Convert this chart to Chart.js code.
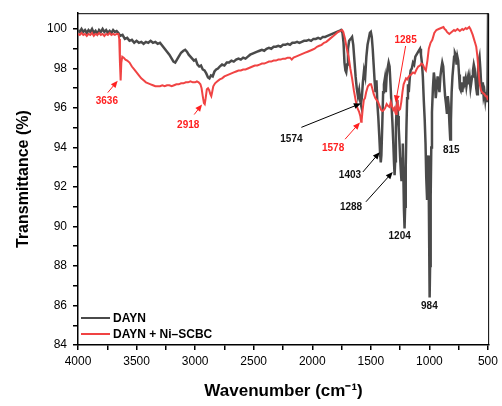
<!DOCTYPE html>
<html>
<head>
<meta charset="utf-8">
<script src="https://cdn.jsdelivr.net/npm/chart.js@4"></script>
<style>
html,body{margin:0;padding:0;background:#fff;}
#wrap{width:502px;height:406px;}
</style>
</head>
<body>
<div id="wrap"><canvas id="c" width="502" height="406"></canvas></div>
<script>
// ---- data ----
const seriesNames = ['DAYN', 'DAYN + Ni\u2013SCBC'];
const wnDAYN = [4000,3985,3970,3955,3940,3925,3910,3895,3880,3865,3850,3835,3820,3805,3790,3775,3760,3745,3730,3715,3700,3685,3670,3655,3640,3620,3600,3580,3560,3540,3520,3500,3480,3460,3440,3420,3400,3380,3360,3340,3320,3300,3280,3260,3240,3220,3200,3185,3170,3155,3140,3120,3100,3085,3070,3055,3040,3025,3010,2995,2980,2965,2950,2935,2920,2905,2890,2878,2865,2850,2835,2820,2805,2790,2770,2750,2730,2710,2690,2670,2650,2630,2610,2590,2570,2550,2530,2510,2490,2470,2450,2430,2410,2390,2370,2350,2330,2310,2290,2270,2250,2230,2210,2190,2170,2150,2130,2110,2090,2070,2050,2030,2010,1990,1970,1950,1930,1910,1890,1870,1850,1830,1810,1790,1770,1755,1742,1733,1725,1717,1710,1702,1695,1685,1672,1660,1650,1640,1630,1620,1610,1600,1592,1585,1577,1568,1558,1548,1538,1528,1518,1508,1500,1492,1484,1476,1468,1460,1452,1444,1436,1428,1420,1415,1410,1402,1395,1388,1380,1372,1365,1357,1348,1340,1332,1324,1316,1308,1302,1297,1292,1286,1280,1274,1268,1262,1256,1250,1244,1238,1232,1227,1222,1217,1212,1207,1202,1196,1190,1183,1176,1168,1160,1150,1140,1130,1120,1110,1100,1090,1080,1072,1064,1056,1048,1040,1033,1027,1020,1014,1009,1005,1001,998,994,989,984,978,970,962,954,946,938,930,922,914,906,898,890,882,874,866,858,850,843,836,829,822,816,810,803,796,789,782,775,768,761,754,747,740,733,726,719,712,705,698,691,684,677,670,663,656,649,642,635,628,621,614,607,600,593,586,579,572,565,558,551,544,537,530,523,516,510,504,499];
const tDAYN = [99.95,99.85,100.0,99.85,99.95,99.8,99.95,99.85,100.0,99.8,99.9,99.75,99.95,99.85,100.0,99.85,99.95,99.8,99.9,99.8,99.95,99.85,99.9,99.8,99.65,99.7,99.5,99.55,99.4,99.45,99.3,99.4,99.3,99.35,99.25,99.35,99.3,99.4,99.3,99.35,99.25,99.3,99.15,99.0,98.85,98.7,98.5,98.35,98.3,98.45,98.6,98.8,98.9,98.95,98.85,98.7,98.6,98.5,98.4,98.45,98.2,98.1,98.15,97.95,97.9,97.75,97.55,97.5,97.65,97.6,97.85,97.95,98.0,98.1,98.2,98.15,98.3,98.3,98.4,98.35,98.45,98.5,98.45,98.55,98.5,98.6,98.7,98.75,98.8,98.85,98.9,98.95,98.9,99.0,99.05,99.0,99.1,99.1,99.15,99.1,99.2,99.2,99.25,99.2,99.3,99.3,99.35,99.3,99.35,99.4,99.4,99.45,99.4,99.5,99.5,99.55,99.5,99.6,99.6,99.65,99.7,99.75,99.8,99.85,99.9,99.95,99.8,99.3,98.3,97.9,97.8,98.2,99.0,99.4,99.5,99.6,99.2,98.4,97.6,97.0,96.6,96.9,96.4,96.2,96.5,97.3,97.9,97.6,98.6,99.2,99.5,99.8,99.85,99.6,99.0,98.2,97.4,96.8,97.4,96.2,95.5,94.6,93.6,93.25,93.6,95.2,96.8,97.2,97.5,96.8,97.6,98.0,98.3,98.1,97.2,96.2,95.3,94.2,93.2,92.6,93.3,95.0,96.0,96.4,95.6,95.0,94.3,93.5,92.8,92.3,92.9,94.2,92.5,90.8,89.9,91.0,93.0,95.0,96.5,97.2,96.8,97.5,97.9,98.0,98.3,98.2,98.6,98.7,98.8,98.9,99.0,98.7,98.3,97.6,96.4,95.4,94.2,92.5,91.4,92.2,93.6,91.5,88.5,86.4,88.0,91.5,94.0,95.8,97.0,97.8,97.4,96.5,97.0,97.6,97.2,96.8,97.6,98.0,98.3,98.1,97.3,96.6,96.2,95.7,96.6,96.2,95.2,94.4,95.4,96.8,97.6,98.1,98.6,98.8,98.7,98.2,98.6,98.4,97.7,97.0,96.9,97.3,96.8,97.2,97.6,97.3,97.5,97.1,97.4,97.6,97.2,97.5,97.0,97.3,97.6,97.9,98.2,98.0,97.5,97.0,96.7,97.8,98.4,98.6,98.0,97.2,96.7,97.3,96.6,96.8,96.4,96.8,96.3,97.0,100.9];

const wnNi = [4000,3985,3970,3955,3940,3925,3910,3895,3880,3865,3850,3835,3820,3805,3790,3775,3760,3745,3730,3715,3700,3685,3670,3655,3648,3642,3636,3630,3622,3610,3595,3580,3560,3540,3520,3500,3480,3460,3440,3420,3400,3380,3360,3340,3320,3300,3280,3260,3240,3220,3200,3180,3160,3140,3120,3100,3080,3060,3040,3020,3000,2985,2970,2955,2945,2935,2925,2918,2910,2900,2890,2880,2870,2862,2855,2845,2830,2810,2790,2770,2750,2730,2710,2690,2670,2650,2630,2610,2590,2570,2550,2530,2510,2490,2470,2450,2430,2410,2390,2370,2350,2330,2310,2290,2270,2250,2230,2210,2190,2175,2160,2140,2120,2100,2080,2060,2040,2020,2000,1980,1960,1940,1920,1900,1880,1860,1840,1820,1800,1780,1760,1745,1735,1720,1705,1690,1675,1660,1645,1630,1615,1600,1590,1583,1578,1570,1560,1550,1540,1525,1510,1498,1488,1475,1462,1450,1438,1425,1412,1400,1390,1378,1365,1352,1340,1330,1320,1308,1298,1290,1285,1279,1272,1265,1258,1250,1240,1230,1220,1210,1200,1190,1180,1168,1155,1140,1125,1110,1095,1080,1068,1055,1042,1030,1017,1005,990,975,958,940,920,900,880,870,860,850,840,830,820,810,800,790,780,770,760,750,740,730,720,710,700,690,680,670,660,650,640,630,620,610,600,590,580,570,560,550,540,530,520,510,500,492];
const tNi = [99.75,99.7,99.8,99.7,99.75,99.65,99.75,99.7,99.8,99.65,99.75,99.7,99.8,99.7,99.75,99.65,99.75,99.7,99.8,99.7,99.75,99.7,99.75,99.75,99.5,98.3,97.4,98.3,98.6,98.55,98.45,98.4,98.3,98.1,97.95,97.8,97.65,97.5,97.4,97.3,97.25,97.2,97.15,97.1,97.1,97.1,97.15,97.1,97.15,97.15,97.1,97.15,97.2,97.2,97.25,97.25,97.3,97.3,97.35,97.3,97.3,97.35,97.3,97.2,97.0,96.6,96.25,96.2,96.5,96.95,97.0,96.9,96.7,96.6,96.8,97.1,97.25,97.35,97.45,97.5,97.6,97.65,97.7,97.75,97.8,97.85,97.9,97.9,97.95,97.95,98.0,98.05,98.1,98.15,98.15,98.2,98.25,98.25,98.3,98.35,98.35,98.4,98.4,98.45,98.45,98.5,98.5,98.55,98.55,98.45,98.55,98.6,98.65,98.7,98.75,98.8,98.85,98.9,98.95,99.0,99.1,99.15,99.2,99.3,99.35,99.45,99.55,99.65,99.75,99.85,99.9,99.95,99.85,99.5,99.0,98.6,98.0,97.5,96.9,96.4,96.0,95.8,95.6,95.3,95.4,95.9,96.4,96.5,96.8,97.1,97.2,97.2,97.0,96.7,96.5,96.4,96.3,96.1,95.9,95.85,95.9,96.0,96.2,96.1,96.05,96.3,96.1,95.9,96.0,95.75,95.7,96.1,96.3,96.0,95.9,95.95,96.3,96.8,97.2,97.35,97.5,97.45,97.55,97.65,97.7,97.8,97.75,97.95,98.1,98.15,98.25,98.2,98.0,97.9,98.4,99.0,99.3,99.45,99.8,99.95,100.0,100.05,100.1,100.0,99.95,99.85,99.8,99.75,99.8,99.85,99.9,99.95,99.9,99.95,100.0,99.95,99.9,99.95,100.0,99.95,100.0,100.05,100.0,100.05,100.1,100.0,99.85,99.7,99.5,99.3,99.1,98.6,97.8,97.2,96.9,96.8,96.75,96.7,96.6,96.6,96.4];

const xTickValues = [4000,3750,3500,3250,3000,2750,2500,2250,2000,1750,1500,1250,1000,750,500];
const yTickValues = [84,85,86,87,88,89,90,91,92,93,94,95,96,97,98,99,100];

// peak annotations (data coordinates)
const peakLabels = [
  {text:'3636', wn:3754, t:96.33, red:true},
  {text:'2918', wn:3059, t:95.12, red:true},
  {text:'1574', wn:2178, t:94.42, red:false},
  {text:'1578', wn:1822, t:93.96, red:true},
  {text:'1285', wn:1203, t:99.45, red:true},
  {text:'1403', wn:1678, t:92.60, red:false},
  {text:'1288', wn:1669, t:90.95, red:false},
  {text:'1204', wn:1254, t:89.49, red:false},
  {text:'984',  wn:1000, t:85.97, red:false},
  {text:'815',  wn:813,  t:93.86, red:false}
];
const peakArrows = [
  {from:[3746,96.78], to:[3661,97.38], red:true},
  {from:[3008,95.67], to:[2941,96.18], red:true},
  {from:[2093,95.02], to:[1585,96.23], red:false},
  {from:[1720,94.42], to:[1593,95.27], red:true},
  {from:[1203,99.14], to:[1288,96.28], red:true},
  {from:[1568,92.76], to:[1424,93.76], red:false},
  {from:[1542,91.25], to:[1313,92.76], red:false}
];

const GRAY = '#4a4a4a';
const RED = '#f04343';

function pts(xs, ys){ return xs.map((x,i)=>({x:x, y:ys[i]})); }

const extras = {
  id:'extras',
  afterDatasetsDraw(chart){
    const {ctx, chartArea:a, scales:{x, y}} = chart;
    ctx.save();
    // frame top/right
    ctx.strokeStyle = '#000';
    ctx.lineWidth = 1;
    ctx.beginPath();
    ctx.moveTo(a.left, a.top+0.5);
    ctx.lineTo(a.right-0.5, a.top+0.5);
    ctx.lineTo(a.right-0.5, a.bottom);
    ctx.stroke();
    // arrows
    peakArrows.forEach(ar=>{
      const c = ar.red ? '#ff2020' : '#000';
      const x1 = x.getPixelForValue(ar.from[0]), y1 = y.getPixelForValue(ar.from[1]);
      const x2 = x.getPixelForValue(ar.to[0]), y2 = y.getPixelForValue(ar.to[1]);
      const ang = Math.atan2(y2-y1, x2-x1);
      const hl = 7, hw = 3;
      ctx.strokeStyle = c; ctx.fillStyle = c; ctx.lineWidth = 1;
      ctx.beginPath();
      ctx.moveTo(x1,y1);
      ctx.lineTo(x2 - hl*0.8*Math.cos(ang), y2 - hl*0.8*Math.sin(ang));
      ctx.stroke();
      ctx.beginPath();
      ctx.moveTo(x2,y2);
      ctx.lineTo(x2 - hl*Math.cos(ang) + hw*Math.sin(ang), y2 - hl*Math.sin(ang) - hw*Math.cos(ang));
      ctx.lineTo(x2 - hl*Math.cos(ang) - hw*Math.sin(ang), y2 - hl*Math.sin(ang) + hw*Math.cos(ang));
      ctx.closePath();
      ctx.fill();
    });
    // labels
    ctx.font = 'bold 10px "Liberation Sans", Arial, sans-serif';
    ctx.textAlign = 'center';
    ctx.textBaseline = 'middle';
    peakLabels.forEach(l=>{
      ctx.fillStyle = l.red ? '#ff2020' : '#111';
      ctx.fillText(l.text, x.getPixelForValue(l.wn), y.getPixelForValue(l.t));
    });
    // legend
    const ds = chart.data.datasets;
    const ly = [318, 334];
    ctx.font = 'bold 12px "Liberation Sans", Arial, sans-serif';
    ctx.textAlign = 'left';
    ds.forEach((d,i)=>{
      ctx.strokeStyle = d.borderColor;
      ctx.lineWidth = 2;
      ctx.beginPath();
      ctx.moveTo(a.left+3, ly[i]);
      ctx.lineTo(a.left+32, ly[i]);
      ctx.stroke();
      ctx.fillStyle = '#000';
      ctx.fillText(d.label, a.left+35, ly[i]+0.5);
    });
    ctx.restore();
  }
};

new Chart(document.getElementById('c'), {
  type:'line',
  data:{
    datasets:[
      {label:seriesNames[0], data:pts(wnDAYN,tDAYN), borderColor:GRAY, borderWidth:2.5, pointRadius:0, tension:0, order:2},
      {label:seriesNames[1], data:pts(wnNi,tNi), borderColor:RED, borderWidth:2, pointRadius:0, tension:0, order:1}
    ]
  },
  options:{
    responsive:false,
    animation:false,
    devicePixelRatio:1,
    layout:{padding:{top:10, right:10, left:0, bottom:0}},
    plugins:{legend:{display:false}, tooltip:{enabled:false}},
    scales:{
      x:{
        type:'linear', reverse:true, min:490, max:4000,
        afterBuildTicks(ax){ ax.ticks = xTickValues.map(v=>({value:v})); },
        afterFit(ax){ ax.height = 61; },
        ticks:{autoSkip:false, maxRotation:0, padding:4, color:'#000',
          font:{family:'"Liberation Sans", Arial, sans-serif', size:12},
          callback:(v)=> (v % 500 === 0 ? String(v) : '')},
        grid:{drawOnChartArea:false, drawTicks:true, tickLength:5, color:'#000', lineWidth:1.5},
        border:{color:'#000', width:1.5},
        title:{display:true, text:'Wavenumber (cm\u207B\u00B9)', color:'#000',
          font:{family:'"Liberation Sans", Arial, sans-serif', size:17, weight:'bold'}, padding:{top:0,bottom:4}}
      },
      y:{
        type:'linear', min:84, max:100.8,
        afterBuildTicks(ax){ ax.ticks = yTickValues.map(v=>({value:v})); },
        afterFit(ax){ ax.width = 78; },
        ticks:{autoSkip:false, padding:6, color:'#000',
          font:{family:'"Liberation Sans", Arial, sans-serif', size:12},
          callback:(v)=> (v % 2 === 0 ? String(v) : '')},
        grid:{drawOnChartArea:false, drawTicks:true, tickLength:5, color:'#000', lineWidth:1.5},
        border:{color:'#000', width:1.5},
        title:{display:true, text:'Transmittance (%)', color:'#000',
          font:{family:'"Liberation Sans", Arial, sans-serif', size:16, weight:'bold'}, padding:{top:14,bottom:0}}
      }
    }
  },
  plugins:[extras]
});
</script>
</body>
</html>
